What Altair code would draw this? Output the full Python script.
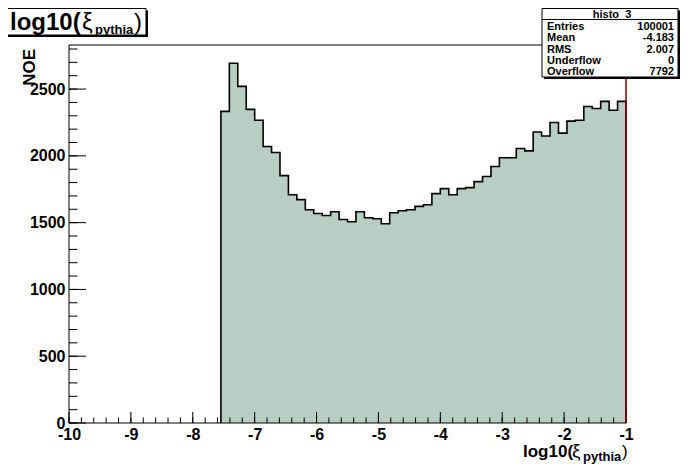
import altair as alt
import pandas as pd

# ---------------- data ----------------
counts = [2333, 2693, 2520, 2348, 2267, 2070, 2025, 1852, 1709, 1672, 1597, 1569,
          1554, 1582, 1524, 1507, 1582, 1537, 1529, 1492, 1574, 1589, 1597, 1622,
          1634, 1717, 1755, 1709, 1755, 1762, 1807, 1845, 1920, 1986, 1986, 2055,
          2037, 2179, 2149, 2250, 2170, 2260, 2267, 2370, 2355, 2408, 2342, 2408]
n_bins_total = 66
x_lo, x_hi = -10, -1
first_bin = 18
y_top = 2830

x_major = [-10, -9, -8, -7, -6, -5, -4, -3, -2, -1]
y_major = [0, 500, 1000, 1500, 2000, 2500]

stat_labels = ["Entries", "Mean", "RMS", "Underflow", "Overflow"]
stat_values = ["100001", "-4.183", "2.007", "0", "7792"]
hist_name = "histo_3"

# ---------------- layout ----------------
W, H = 557, 378
FONT = "Liberation Sans"
FILL = "#b8cdc3"

bw = (x_hi - x_lo) / n_bins_total
starts = [x_lo + (first_bin + i) * bw for i in range(len(counts))]
end_edge = starts[-1] + bw

ox = [starts[0]] + starts + [end_edge, end_edge]
oy = [0] + counts + [counts[-1], 0]
outline = pd.DataFrame({"x": ox, "y": oy, "o": list(range(len(ox)))})
area_df = pd.DataFrame({"x": starts + [end_edge], "y": counts + [counts[-1]]})

xs = alt.Scale(domain=[x_lo, x_hi], nice=False, zero=False)
ys = alt.Scale(domain=[0, y_top], nice=False, zero=True)

one = pd.DataFrame({"a": [0]})

axis_common = dict(ticks=False, tickSize=0, domain=False, grid=False,
                   labelFont=FONT, labelFontSize=16, labelFontWeight="bold",
                   labelColor="black", labelFlush=False, labelOverlap=False,
                   labelExpr="'' + datum.value")

fill = alt.Chart(area_df).mark_area(interpolate="step-after", fill=FILL,
                                    stroke=None, opacity=1).encode(
    x=alt.X("x:Q", scale=xs, title=None,
            axis=alt.Axis(values=x_major, labelPadding=3, **axis_common)),
    y=alt.Y("y:Q", scale=ys, title=None,
            axis=alt.Axis(values=y_major, labelPadding=4, **axis_common)),
    y2=alt.datum(0),
)

line = alt.Chart(outline).mark_line(interpolate="step-after", color="black",
                                    strokeWidth=1.6).encode(
    x=alt.X("x:Q", scale=xs), y=alt.Y("y:Q", scale=ys), order="o:Q")

# ticks (inward)
xt_major = pd.DataFrame({"v": x_major})
xt_minor = pd.DataFrame({"v": [x_lo + 0.2 * k for k in range(46)]})
yt_major = pd.DataFrame({"v": y_major})
yt_minor = pd.DataFrame({"v": [100 * k for k in range(29)]})

xtM = alt.Chart(xt_major).mark_rule(color="black", strokeWidth=1).encode(
    x=alt.X("v:Q", scale=xs), y=alt.value(H - 11), y2=alt.value(H))
xtm = alt.Chart(xt_minor).mark_rule(color="black", strokeWidth=1).encode(
    x=alt.X("v:Q", scale=xs), y=alt.value(H - 5.5), y2=alt.value(H))
ytM = alt.Chart(yt_major).mark_rule(color="black", strokeWidth=1).encode(
    y=alt.Y("v:Q", scale=ys), x=alt.value(0), x2=alt.value(17))
ytm = alt.Chart(yt_minor).mark_rule(color="black", strokeWidth=1).encode(
    y=alt.Y("v:Q", scale=ys), x=alt.value(0), x2=alt.value(8.5))

frame = alt.Chart(one).mark_rect(filled=False, stroke="black", strokeWidth=1).encode(
    x=alt.value(0), x2=alt.value(W), y=alt.value(0), y2=alt.value(H))
red_edge = alt.Chart(one).mark_rule(color="#cc0000", strokeWidth=1).encode(
    x=alt.value(W), y=alt.value(0), y2=alt.value(H))


def txt(s, x, y, size, weight="bold", align="left", angle=0, baseline="alphabetic"):
    kw = dict(font=FONT, fontSize=size, fontWeight=weight, align=align, baseline=baseline)
    if angle:
        kw["angle"] = angle
    return alt.Chart(one).mark_text(**kw).encode(
        x=alt.value(x), y=alt.value(y), text=alt.value(s))


def box(x0, x1, y0, y1):
    sh = alt.Chart(one).mark_rect(fill="black").encode(
        x=alt.value(x0 + 2), x2=alt.value(x1 + 2), y=alt.value(y0 + 2), y2=alt.value(y1 + 2))
    bx = alt.Chart(one).mark_rect(fill="white", stroke="black", strokeWidth=1).encode(
        x=alt.value(x0), x2=alt.value(x1), y=alt.value(y0), y2=alt.value(y1))
    return [sh, bx]


# stats box (top edge kept inside the drawable page area)
sx0, sx1, sy0, sy1 = 473, 609, -36.5, 32
stats_layers = box(sx0, sx1, sy0, sy1)
stats_layers.append(alt.Chart(one).mark_rule(color="black", strokeWidth=1).encode(
    x=alt.value(sx0), x2=alt.value(sx1), y=alt.value(-25.5), y2=alt.value(-25.5)))
stats_layers.append(txt(hist_name, (sx0 + sx1) / 2 + 2, -30.5, 11, align="center",
                        baseline="middle"))
row_y = [-18.5, -7, 4.5, 16, 27]
for lab, val, ry in zip(stat_labels, stat_values, row_y):
    stats_layers.append(txt(lab, sx0 + 5, ry, 11, baseline="middle"))
    stats_layers.append(txt(val, sx1 - 4, ry, 11, align="right", baseline="middle"))

# title box
title_layers = box(-64, 77, -36.5, -10)
title_layers += [
    txt("log10(", -59, -15, 24),
    txt("ξ", 13, -15, 24, weight="normal"),
    txt("pythia", 26, -11, 13),
    txt(")", 65, -15, 24, weight="normal"),
]

xtitle_parts = [
    txt("log10(", 454, 412, 17),
    txt("ξ", 503, 412, 19, weight="normal"),
    txt("pythia", 514, 416, 13),
    txt(")", 553, 412, 17, weight="normal"),
]

ytitle = txt("NOE", -34, 4, 17, angle=270, align="right")

chart = alt.layer(
    fill, line, xtm, xtM, ytm, ytM, frame, red_edge,
    *stats_layers, *title_layers, *xtitle_parts, ytitle,
).properties(
    width=W, height=H,
    padding={"left": 61, "top": 37, "right": 62, "bottom": 41},
    autosize=alt.AutoSizeParams(type="none"),
    background="white",
).configure_view(stroke=None)

chart.save("out.html", embed_options={"renderer": "svg", "actions": False})
